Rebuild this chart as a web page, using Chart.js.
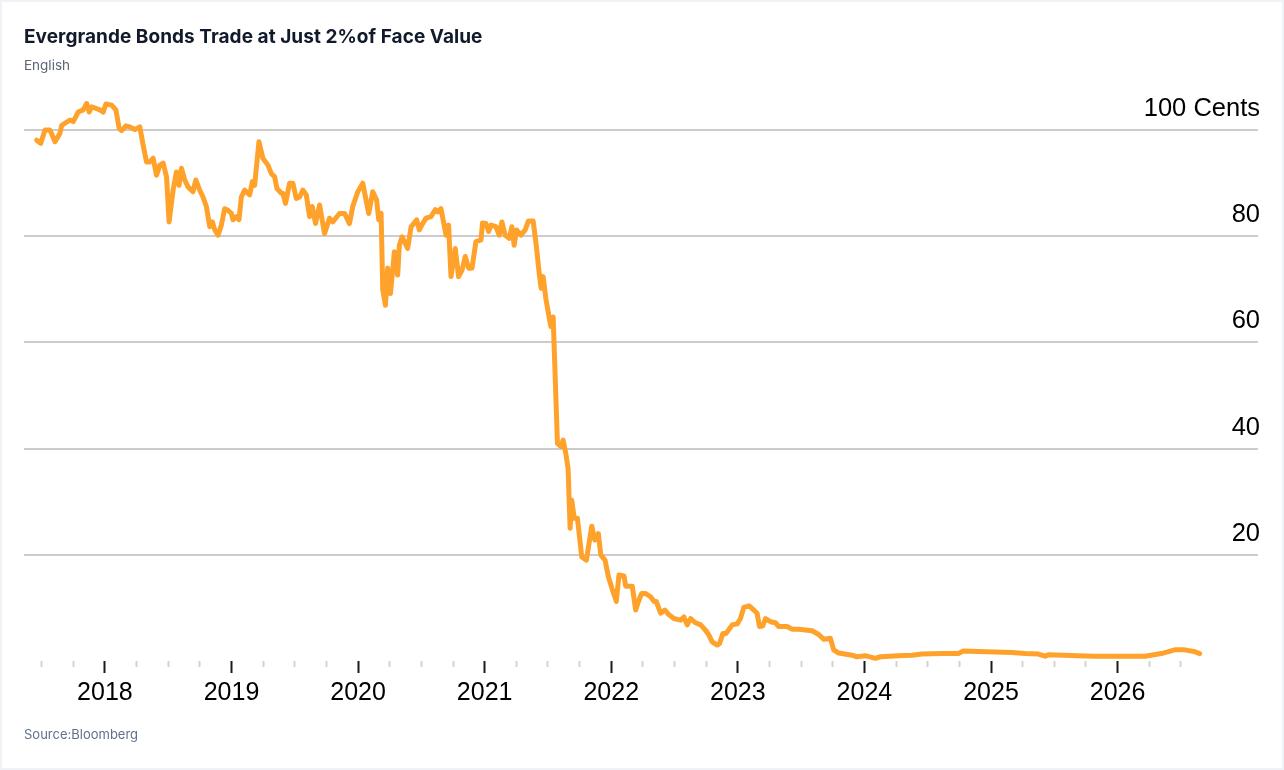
<!DOCTYPE html>
<html>
<head>
<meta charset="utf-8">
<title>Evergrande Bonds Trade at Just 2% of Face Value</title>
<script src="https://cdn.jsdelivr.net/npm/chart.js@4.4.1/dist/chart.umd.min.js"></script>
<style>
    html, body {
        margin: 0;
        padding: 0;
        width: 1284px;
        height: 770px;
        background: #eff2f6;
        overflow: hidden;
    }
    .card {
        position: absolute;
        left: 2px;
        top: 2px;
        width: 1280px;
        height: 766px;
        background: #ffffff;
    }
    .title {
        position: absolute;
        left: 24px;
        top: 27px;
        font: 700 19px/19px Inter, "Noto Sans", sans-serif;
        color: #111a2b;
        letter-spacing: 0.05px;
        white-space: nowrap;
        z-index: 2;
    }
    .subtitle {
        position: absolute;
        left: 24px;
        top: 59px;
        font: 400 13.5px/13.5px Inter, "Noto Sans", sans-serif;
        color: #5b6577;
        z-index: 2;
    }
    .source {
        position: absolute;
        left: 24px;
        top: 728px;
        font: 400 13px/13px Inter, "Noto Sans", sans-serif;
        color: #62718a;
        z-index: 2;
    }
    #chart-wrap {
        position: absolute;
        left: 0;
        top: 0;
        width: 1284px;
        height: 770px;
        z-index: 1;
    }
</style>
</head>
<body>
<div class="card"></div>
<div class="title">Evergrande Bonds Trade at Just 2%of Face Value</div>
<div class="subtitle">English</div>
<div id="chart-wrap"><canvas id="bond-chart" width="1284" height="770"></canvas></div>
<div class="source">Source:Bloomberg</div>

<script>
// Bond price in cents on the dollar (decimal year, price)
const dates = [
    2017.461, 2017.493, 2017.527, 2017.566, 2017.606, 2017.645, 2017.659, 2017.724, 2017.750, 2017.789,
    2017.829, 2017.856, 2017.876, 2017.895, 2017.961, 2017.987, 2018.008, 2018.053, 2018.087, 2018.113,
    2018.132, 2018.166, 2018.197, 2018.237, 2018.276, 2018.302, 2018.329, 2018.355, 2018.381, 2018.408,
    2018.434, 2018.460, 2018.487, 2018.507, 2018.539, 2018.565, 2018.586, 2018.605, 2018.631, 2018.657,
    2018.696, 2018.718, 2018.749, 2018.775, 2018.802, 2018.828, 2018.849, 2018.868, 2018.894, 2018.920,
    2018.946, 2018.972, 2018.999, 2019.012, 2019.039, 2019.059, 2019.078, 2019.104, 2019.144, 2019.165,
    2019.183, 2019.217, 2019.248, 2019.288, 2019.315, 2019.341, 2019.359, 2019.394, 2019.406, 2019.427,
    2019.459, 2019.485, 2019.512, 2019.538, 2019.564, 2019.591, 2019.617, 2019.638, 2019.664, 2019.696,
    2019.735, 2019.774, 2019.800, 2019.853, 2019.893, 2019.932, 2019.958, 2019.998, 2020.037, 2020.084,
    2020.116, 2020.147, 2020.163, 2020.182, 2020.195, 2020.216, 2020.234, 2020.256, 2020.287, 2020.313,
    2020.326, 2020.348, 2020.392, 2020.419, 2020.463, 2020.484, 2020.510, 2020.537, 2020.576, 2020.610,
    2020.629, 2020.655, 2020.695, 2020.715, 2020.734, 2020.768, 2020.794, 2020.821, 2020.847, 2020.873,
    2020.900, 2020.931, 2020.971, 2020.983, 2021.010, 2021.031, 2021.050, 2021.089, 2021.115, 2021.136,
    2021.162, 2021.194, 2021.215, 2021.233, 2021.252, 2021.286, 2021.320, 2021.346, 2021.383, 2021.409,
    2021.431, 2021.446, 2021.462, 2021.483, 2021.509, 2021.523, 2021.541, 2021.575, 2021.602, 2021.620,
    2021.641, 2021.659, 2021.675, 2021.688, 2021.707, 2021.733, 2021.767, 2021.804, 2021.846, 2021.870,
    2021.898, 2021.917, 2021.951, 2021.977, 2022.009, 2022.040, 2022.061, 2022.101, 2022.114, 2022.166,
    2022.193, 2022.219, 2022.240, 2022.272, 2022.311, 2022.338, 2022.356, 2022.390, 2022.424, 2022.456,
    2022.495, 2022.548, 2022.574, 2022.600, 2022.627, 2022.666, 2022.706, 2022.745, 2022.771, 2022.797,
    2022.837, 2022.856, 2022.882, 2022.908, 2022.955, 2022.995, 2023.021, 2023.047, 2023.087, 2023.113,
    2023.152, 2023.171, 2023.197, 2023.218, 2023.258, 2023.297, 2023.323, 2023.389, 2023.428, 2023.481,
    2023.586, 2023.639, 2023.678, 2023.731, 2023.757, 2023.797, 2023.902, 2023.941, 2024.007, 2024.086,
    2024.126, 2024.270, 2024.375, 2024.454, 2024.611, 2024.743, 2024.782, 2024.901, 2025.163, 2025.269,
    2025.374, 2025.427, 2025.453, 2025.689, 2025.821, 2026.215, 2026.346, 2026.451, 2026.530, 2026.603,
    2026.648
];
const prices = [
    98.1, 97.5, 100.0, 100.0, 97.8, 99.4, 100.9, 101.9, 101.6, 103.4,
    103.8, 105.0, 103.4, 104.4, 103.8, 103.4, 104.9, 104.7, 103.8, 100.3,
    99.9, 100.8, 100.6, 100.1, 100.6, 97.2, 94.0, 94.0, 94.7, 91.5,
    93.4, 93.8, 91.2, 82.7, 88.7, 92.1, 89.6, 92.8, 90.6, 89.3,
    88.4, 90.6, 88.7, 87.4, 85.6, 81.8, 82.7, 81.2, 80.2, 82.1,
    85.2, 84.9, 84.3, 83.1, 83.7, 83.1, 87.4, 88.7, 87.8, 90.3,
    89.6, 97.8, 94.7, 93.4, 91.8, 91.2, 89.0, 88.1, 88.1, 86.2,
    90.0, 90.0, 87.1, 87.4, 88.7, 87.8, 83.7, 85.6, 82.4, 85.9,
    80.5, 83.4, 82.7, 84.3, 84.3, 82.4, 85.6, 88.4, 90.0, 84.3,
    88.4, 86.8, 83.1, 84.3, 69.9, 67.0, 74.0, 69.2, 77.1, 72.7,
    78.3, 79.9, 77.7, 81.8, 83.1, 81.2, 82.4, 83.4, 83.7, 85.0,
    84.6, 85.2, 80.2, 82.1, 72.4, 77.7, 72.4, 73.6, 76.2, 74.0,
    74.0, 79.0, 79.3, 82.5, 82.4, 80.9, 82.1, 81.8, 80.2, 82.7,
    80.2, 79.6, 81.8, 78.3, 81.2, 80.2, 81.2, 82.9, 82.9, 78.0,
    73.0, 70.2, 72.4, 68.3, 64.8, 63.0, 64.8, 41.0, 40.4, 41.6,
    39.1, 36.3, 25.0, 30.3, 26.9, 26.9, 19.6, 19.0, 25.4, 22.8,
    24.0, 20.0, 19.0, 15.9, 13.4, 11.2, 16.2, 16.0, 14.1, 14.1,
    9.6, 11.5, 12.7, 12.7, 12.1, 11.2, 11.2, 9.0, 9.6, 8.7,
    8.0, 7.7, 8.3, 6.8, 8.0, 7.2, 6.8, 5.8, 4.9, 3.6,
    3.0, 3.3, 5.2, 5.2, 6.8, 7.0, 8.0, 10.1, 10.4, 9.9,
    9.0, 6.5, 6.6, 8.0, 7.4, 7.2, 6.5, 6.5, 6.0, 6.0,
    5.7, 5.0, 4.1, 4.3, 2.1, 1.5, 1.1, 0.8, 1.0, 0.5,
    0.8, 1.0, 1.1, 1.3, 1.4, 1.4, 1.9, 1.8, 1.6, 1.4,
    1.3, 0.9, 1.2, 1.0, 0.9, 0.9, 1.4, 2.1, 2.1, 1.8,
    1.4
];

// Axis ticks
const yearTicks = [2018, 2019, 2020, 2021, 2022, 2023, 2024, 2025, 2026];
const quarterTicks = [
    2017.5, 2017.75,
    2018, 2018.25, 2018.5, 2018.75,
    2019, 2019.25, 2019.5, 2019.75,
    2020, 2020.25, 2020.5, 2020.75,
    2021, 2021.25, 2021.5, 2021.75,
    2022, 2022.25, 2022.5, 2022.75,
    2023, 2023.25, 2023.5, 2023.75,
    2024, 2024.25, 2024.5, 2024.75,
    2025, 2025.25, 2025.5, 2025.75,
    2026, 2026.25, 2026.5
];
const valueTicks = [0, 20, 40, 60, 80, 100];

const axisFont = { family: '"Liberation Sans", Arial, Helvetica, sans-serif', size: 25 };
const valueFont = { family: '"Liberation Sans", Arial, Helvetica, sans-serif', size: 25.5 };

function isYear(value) {
    return yearTicks.includes(value);
}

const ctx = document.getElementById('bond-chart');

new Chart(ctx, {
    type: 'line',
    data: {
        datasets: [{
            label: 'Evergrande bond price',
            data: dates.map((d, i) => ({ x: d, y: prices[i] })),
            borderColor: '#ffa22b',
            borderWidth: 5,
            pointRadius: 0,
            tension: 0,
            borderJoinStyle: 'round',
            borderCapStyle: 'round',
            fill: false
        }]
    },
    options: {
        responsive: false,
        animation: false,
        layout: {
            padding: { left: 24, right: 22, top: 77, bottom: 57 }
        },
        plugins: {
            legend: { display: false },
            tooltip: { enabled: false }
        },
        scales: {
            x: {
                type: 'linear',
                min: 2017.361,
                max: 2027.109,
                border: { display: false },
                grid: {
                    drawOnChartArea: false,
                    drawTicks: true,
                    tickLength: 12,
                    tickWidth: 2,
                    tickColor: c => isYear(c.tick.value) ? '#1a1a1a' : '#d2d2d2',
                    tickBorderDash: c => isYear(c.tick.value) ? [] : [6, 30]
                },
                afterBuildTicks: axis => {
                    axis.ticks = quarterTicks.map(v => ({ value: v }));
                },
                ticks: {
                    autoSkip: false,
                    maxRotation: 0,
                    padding: 5,
                    color: '#000000',
                    font: axisFont,
                    callback: value => isYear(value) ? String(value) : ''
                }
            },
            y: {
                position: 'right',
                min: 0,
                max: 110,
                border: { display: false },
                grid: {
                    drawTicks: false,
                    lineWidth: 2,
                    color: c => (c.tick && c.tick.value === 0) ? 'rgba(0,0,0,0)' : '#cccccc'
                },
                afterBuildTicks: axis => {
                    axis.ticks = valueTicks.map(v => ({ value: v }));
                },
                ticks: {
                    mirror: true,
                    padding: 2,
                    labelOffset: -21,
                    color: '#000000',
                    font: valueFont,
                    callback: value => {
                        if (value === 0) return '';
                        if (value === 100) return '100 Cents';
                        return String(value);
                    }
                }
            }
        }
    }
});
</script>
</body>
</html>
